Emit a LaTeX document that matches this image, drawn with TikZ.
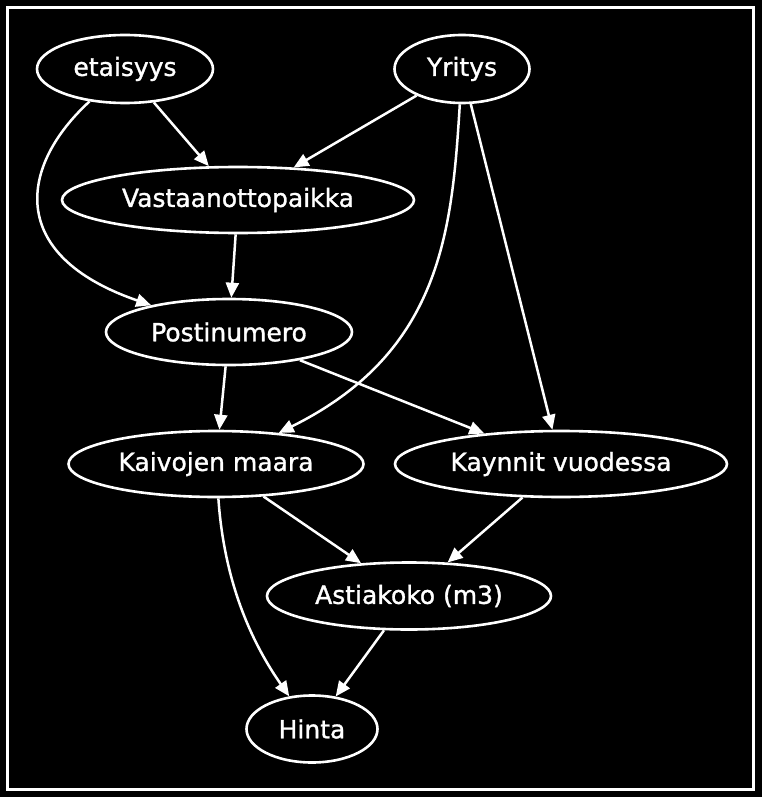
\documentclass[tikz,border=0pt]{standalone}
\usepackage{fontspec}
\setmainfont[FakeBold=1.2]{DejaVu Sans}
\usetikzlibrary{shapes.geometric,arrows.meta}
\begin{document}
\begin{tikzpicture}[x=1pt,y=-1pt,
  nd/.style={ellipse,draw=white,line width=2.6pt,text=white,inner sep=0pt,
    font=\fontsize{25}{30}\selectfont},
  ed/.style={draw=white,line width=2.5pt,-{Triangle[length=15pt,width=13pt]},fill=none},
]
\fill[black] (0,0) rectangle (762,797);
\useasboundingbox (0,0) rectangle (762,797);
\draw[white,line width=2.6pt] (7.5,7.5) rectangle (753.5,789.5);

\node[nd,minimum width=176pt,minimum height=68pt] (eta) at (125,69) {etaisyys};
\node[nd,minimum width=135pt,minimum height=68pt] (yri) at (462,69) {Yritys};
\node[nd,minimum width=352pt,minimum height=66pt] (vas) at (238,200) {Vastaanottopaikka};
\node[nd,minimum width=246pt,minimum height=66pt] (pos) at (229,332) {Postinumero};
\node[nd,minimum width=295pt,minimum height=66pt] (kai) at (216,464) {Kaivojen maara};
\node[nd,minimum width=332pt,minimum height=66pt] (kay) at (561,464) {Kaynnit vuodessa};
\node[nd,minimum width=284pt,minimum height=67pt] (ast) at (409,596) {Astiakoko (m3)};
\node[nd,minimum width=131pt,minimum height=67pt] (hin) at (312,729) {Hinta};

\draw[ed] (eta) -- (vas);
\draw[ed] (eta) .. controls (20,165) and (5,255) .. (pos);
\draw[ed] (yri) -- (vas);
\draw[ed] (yri) .. controls (452,230) and (442,352) .. (kai);
\draw[ed] (yri) -- (kay);
\draw[ed] (vas) -- (pos);
\draw[ed] (pos) -- (kai);
\draw[ed] (pos) -- (kay);
\draw[ed] (kai) -- (ast);
\draw[ed] (kai) .. controls (224,580) and (250,640) .. (hin);
\draw[ed] (kay) -- (ast);
\draw[ed] (ast) -- (hin);
\end{tikzpicture}
\end{document}
